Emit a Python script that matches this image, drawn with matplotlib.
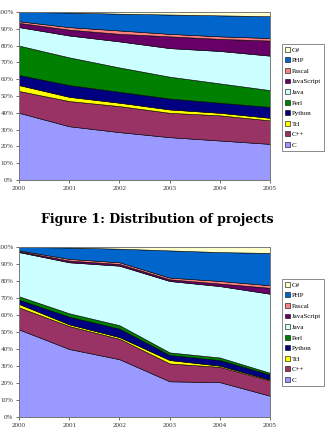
import matplotlib
matplotlib.use("Agg")
import matplotlib.pyplot as plt
import numpy as np

years = [2000, 2001, 2002, 2003, 2004, 2005]
languages = ["C", "C++", "Tcl", "Python", "Perl", "Java", "JavaScript", "Pascal", "PHP", "C#"]
colors = ["#9999ff", "#993366", "#ffff00", "#000080", "#008000", "#ccffff",
          "#660066", "#ff8080", "#0066cc", "#ffffcc"]

top_cum = {
    "C":          [40.0, 32.0, 28.5, 25.5, 23.5, 21.5],
    "C++":        [53.0, 47.0, 44.0, 40.0, 38.5, 35.5],
    "Tcl":        [56.5, 49.5, 46.0, 42.0, 40.0, 37.0],
    "Python":     [62.5, 56.5, 52.5, 48.5, 46.0, 43.5],
    "Perl":       [80.0, 73.0, 67.0, 61.5, 57.5, 53.5],
    "Java":       [91.0, 86.0, 82.5, 78.5, 76.8, 74.0],
    "JavaScript": [93.5, 89.5, 87.0, 85.5, 84.0, 83.0],
    "Pascal":     [94.5, 91.0, 89.0, 87.0, 85.5, 84.5],
    "PHP":        [100.0, 99.7, 99.0, 98.5, 98.0, 97.5],
    "C#":         [100.0, 100.0, 100.0, 100.0, 100.0, 100.0],
}
bot_cum = {
    "C":          [51.5, 40.0, 34.0, 21.0, 20.5, 12.5],
    "C++":        [64.5, 53.5, 46.0, 31.5, 29.5, 21.5],
    "Tcl":        [66.5, 54.5, 47.0, 33.5, 30.2, 22.0],
    "Python":     [69.0, 59.0, 52.0, 36.5, 33.5, 25.0],
    "Perl":       [71.0, 61.0, 54.0, 38.0, 35.0, 26.0],
    "Java":       [97.0, 91.0, 89.0, 80.0, 77.0, 72.5],
    "JavaScript": [97.5, 92.0, 90.0, 81.0, 78.5, 76.0],
    "Pascal":     [98.0, 93.0, 91.0, 82.0, 80.0, 77.5],
    "PHP":        [100.0, 99.7, 99.0, 98.0, 97.0, 96.5],
    "C#":         [100.0, 100.0, 100.0, 100.0, 100.0, 100.0],
}

plt.rcParams['font.family'] = ['Liberation Serif', 'DejaVu Serif']

W, H = 328, 445
fig = plt.figure(figsize=(W / 100, H / 100), dpi=100)
fig.patch.set_facecolor("white")


def px_axes(left, top, right, bottom):
    return fig.add_axes([left / W, 1 - bottom / H, (right - left) / W, (bottom - top) / H])


def draw(ax, cum, legend_top):
    prev = np.zeros(len(years))
    handles = []
    for lang, col in zip(languages, colors):
        cur = np.array(cum[lang])
        h = ax.fill_between(years, prev, cur, facecolor=col, edgecolor="black",
                            linewidth=0.4, label=lang)
        handles.append(h)
        prev = cur
    ax.set_xlim(2000, 2005)
    ax.set_ylim(0, 100)
    ax.set_xticks(years)
    ax.set_xticklabels([str(y) for y in years])
    ax.set_yticks(range(0, 101, 10))
    ax.set_yticklabels([f"{v}%" for v in range(0, 101, 10)])
    ax.tick_params(labelsize=5, length=2, width=0.5, pad=2, colors="#333333")
    for s in ax.spines.values():
        s.set_color("#808080")
        s.set_linewidth(0.6)
    leg = fig.legend(handles[::-1], languages[::-1], loc="upper left",
                     bbox_to_anchor=(282 / W, 1 - legend_top / H),
                     fontsize=5, frameon=True, fancybox=False, shadow=False,
                     handlelength=0.7, handleheight=0.7, handletextpad=0.3,
                     labelspacing=0.68, borderpad=0.4, borderaxespad=0)
    leg.get_frame().set_edgecolor("#555555")
    leg.get_frame().set_linewidth(0.6)


ax1 = px_axes(19, 12, 270, 180)
draw(ax1, top_cum, 44)

fig.text(157 / W, 1 - 220 / H, "Figure 1: Distribution of projects",
         ha="center", va="center", fontsize=9, fontweight="bold",
         family=["DejaVu Serif"])

ax2 = px_axes(19, 247, 270, 417)
draw(ax2, bot_cum, 279)

fig.savefig("out.png", dpi=100)
